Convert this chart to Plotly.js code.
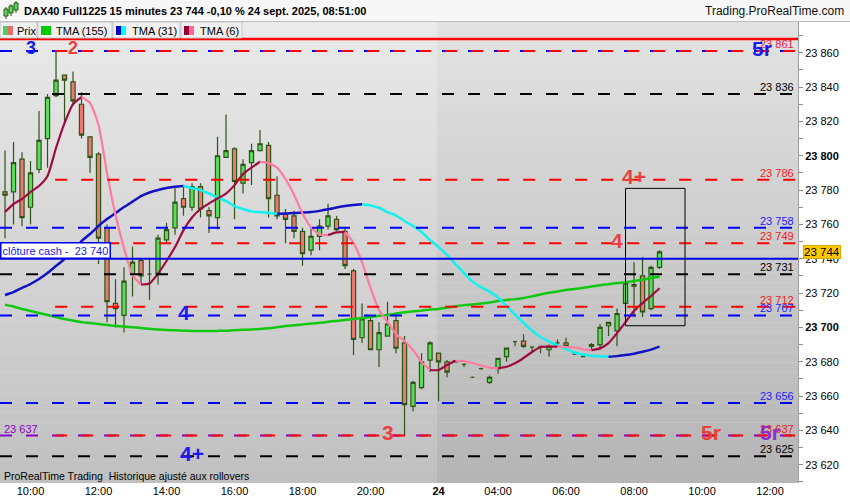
<!DOCTYPE html>
<html><head><meta charset="utf-8">
<script src="https://cdn.plot.ly/plotly-3.0.1.min.js"></script>
<style>html,body{margin:0;padding:0;background:#fff;overflow:hidden}#chart{width:850px;height:500px}</style>
</head><body><div id="chart"></div>
<script>
// ---------- DATA ----------
const times = [
"23 09:15","23 09:30","23 09:45","23 10:00","23 10:15","23 10:30","23 10:45","23 11:00","23 11:15","23 11:30","23 11:45",
"23 12:00","23 12:15","23 12:30","23 12:45","23 13:00","23 13:15","23 13:30","23 13:45",
"23 14:00","23 14:15","23 14:30","23 14:45","23 15:00","23 15:15","23 15:30","23 15:45",
"23 16:00","23 16:15","23 16:30","23 16:45","23 17:00","23 17:15","23 17:30","23 17:45",
"23 18:00","23 18:15","23 18:30","23 18:45","23 19:00","23 19:15","23 19:30","23 19:45",
"23 20:00","23 20:15","23 20:30","23 20:45","23 21:00","23 21:15","23 21:30","23 21:45",
"24 02:15","24 02:30","24 02:45","24 03:00","24 03:15","24 03:30","24 03:45",
"24 04:00","24 04:15","24 04:30","24 04:45","24 05:00","24 05:15","24 05:30","24 05:45",
"24 06:00","24 06:15","24 06:30","24 06:45","24 07:00","24 07:15","24 07:30","24 07:45",
"24 08:00","24 08:15","24 08:30","24 08:45","24 09:00","24 09:15","24 09:30","24 09:45",
"24 10:00","24 10:15","24 10:30","24 10:45","24 11:00","24 11:15","24 11:30","24 11:45",
"24 12:00","24 12:15","24 12:30","24 12:45"];

const open  = [23779,23779,23798,23770,23792,23810,23835,23847,23843,23830,23811,23801,23758,23714,23707,23731,23739,23731,23731,23751,
23758,23775,23770,23782,23768,23764,23799,23804,23784,23796,23803,23806,23777,23766,23765,23756,23745,23753,23759,23763,
23756,23733,23694,23704,23687,23695,23704,23691,23654,23665,23681,23685,23680,23680,23678.5,23671,23676,23668,23676,23683,
23691.7,23692,23688.5,23689,23687,23691,23691,23684.5,23683,23690,23690,23701,23698,23714,23725,23730,23711,23735];
const high  = [23803,23808,23802,23797,23826,23836,23861,23847,23849,23837,23811,23802,23760,23728,23735,23747,23740,23740,23754,23761,
23781,23782,23784,23784,23770,23811,23824,23805,23798,23807,23815,23808,23788,23769,23768,23758,23758,23763,23772,23765,
23758,23734,23714,23706,23703,23715,23708,23695,23669,23685,23692,23685,23681,23681,23679,23671.5,23676.5,23672,23682,23688,
23692,23696,23689,23689,23690,23693,23694,23685,23684,23691,23702,23703,23711,23727,23738,23741,23736,23745];
const low   = [23752,23760,23759,23760,23790,23793,23834,23819,23829,23810,23790,23737,23703,23700,23697,23718,23725,23716,23725,23749,
23754,23765,23768,23764,23755,23757,23799,23763,23778,23783,23803,23764,23763,23749,23752,23736,23742,23745,23757,23756,
23734,23684,23691,23687,23677,23695,23685,23637,23651,23664,23674,23657,23671,23680,23677,23670.5,23675.5,23667,23673,23680,
23689,23688,23685,23685,23683,23689,23687,23684,23683,23687,23687,23695,23689,23710,23706,23706,23710,23734];
const close = [23777,23796,23764,23790,23809,23834,23844,23844,23832,23812,23799,23752,23715,23711,23727,23738,23730,23731,23752,23757,
23773,23770,23782,23769,23765,23800,23803,23785,23795,23803,23807,23775,23765,23763,23756,23743,23753,23759,23765,23757,
23736,23693,23705,23687,23697,23702,23688,23655,23668,23680,23691,23680,23674,23680.5,23678.5,23671,23676,23671,23682,23688,
23691.7,23689,23688.5,23689,23689,23691,23689,23684.5,23683,23689,23700,23703,23708,23726,23724,23709,23735,23744];

const tma155 = [23713.3,23712.2,23710.7,23709.6,23708.4,23707.2,23706.1,23704.9,23704.0,23703.1,23702.6,23702.0,23701.4,23700.9,23700.5,
23700.1,23699.7,23699.2,23698.8,23698.5,23698.3,23698.1,23698.0,23697.9,23697.9,23698.0,23698.1,23698.4,23698.6,23698.8,
23699.1,23699.5,23700.1,23700.8,23701.3,23701.7,23702.3,23702.7,23703.3,23703.8,23704.4,23704.9,23705.5,23706.1,23706.8,
23707.2,23708.1,23708.8,23709.4,23709.8,23710.4,23710.8,23711.6,23712.3,23713.0,23713.4,23713.9,23714.5,23715.4,23716.0,
23716.5,23717.2,23718.1,23719.2,23720.2,23720.9,23721.8,23722.4,23723.1,23723.8,23724.6,23725.2,23725.9,23726.3,23727.0,
23727.8,23728.8,23729.5];
const tma31 = [23718.9,23720.6,23723.0,23725.3,23728.2,23731.7,23735.8,23739.8,23745.1,23750.3,23754.4,23759.1,23763.1,23766.6,23770.1,
23773.3,23776.5,23778.6,23780.1,23781.2,23782.0,23782.4,23781.2,23780.0,23778.0,23775.7,23773.6,23770.7,23769.0,23767.6,
23767.2,23766.8,23766.2,23766.3,23766.7,23766.9,23767.2,23767.9,23768.8,23769.8,23770.7,23771.3,23771.7,23771.0,23769.7,
23767.2,23765.2,23762.0,23759.1,23755.6,23750.9,23746.8,23742.2,23736.9,23731.7,23726.7,23723.5,23720.9,23717.4,23712.5,
23707.5,23702.6,23698.2,23694.4,23691.8,23689.6,23687.4,23685.4,23684.2,23683.5,23683.2,23682.9,23683.3,23683.9,23684.7,
23685.8,23687.1,23688.8];
const tma6 = [23767.2,23771.9,23774.8,23778.9,23782.4,23788.2,23804.5,23819.0,23830.1,23834.2,23830.7,23817.9,23789.9,23765.5,23746.2,
23730.5,23725.0,23725.6,23731.4,23738.7,23746.8,23756.7,23764.0,23769.0,23772.2,23775.1,23778.0,23782.9,23789.3,23793.1,
23796.5,23795.7,23793.1,23786.4,23777.4,23766.3,23758.2,23754.2,23753.8,23755.4,23755.7,23749.2,23738.1,23723.0,23710.1,
23703.1,23696.2,23692.1,23686.9,23679.9,23675.2,23675.2,23678.1,23680.6,23680.4,23679.3,23677.8,23676.6,23676.2,23677.1,
23679.1,23682.2,23685.7,23688.6,23688.8,23688.8,23688.6,23688.3,23687.4,23686.8,23687.8,23690.9,23696.7,23703.1,23709.6,
23714.2,23718.3,23722.8];

const redLevels    = [23861, 23786, 23749, 23712, 23637];
const blueLevels   = [23861, 23758, 23707, 23656];
const blackLevels  = [23836, 23731, 23625];
const purpleLevels = [23637];
const cashClose    = 23740;
const topRedLevel  = 23868;
const lastPrice    = 23744;

const signalText  = ["3","2","4","4+","3","4","4+","5r","5r","5r"];
const signalGroup = ["blue","red","blue","blue","red","red","red","red","purple","blue"];
const signalTime  = ["23 10:00","23 11:15","23 14:30","23 14:45","23 20:30","24 07:30","24 08:00","24 10:15","24 12:00","24 11:45"];
const signalPrice = [23861,23861,23707,23625,23637,23749,23786,23637,23637,23861];

const boxTimes  = ["24 07:45","24 09:30"];
const boxPrices = [23701, 23781];

const tickTimes  = ["23 10:00","23 12:00","23 14:00","23 16:00","23 18:00","23 20:00","24 02:15","24 04:00","24 06:00","24 08:00","24 10:00","24 12:00"];
const tickLabels = ["10:00","12:00","14:00","16:00","18:00","20:00","<b>24</b>","04:00","06:00","08:00","10:00","12:00"];
const yTickVals  = [23620,23640,23660,23680,23700,23720,23740,23760,23780,23800,23820,23840,23860];

// ---------- STYLE ----------
const FONT = 'Liberation Sans, Arial, sans-serif';
const COL = {red:'#ff0000', blue:'#0000ff', black:'#000000', purple:'#8a00c8'};
const TXT = {red:'#e8403c', blue:'#1a1aee', purple:'#8f2bd0'};
const PW = 798, PT = 22, PB = 483;
const px2p = px => px / PW;
const py2p = py => (PB - py) / (PB - PT);
const fmt = v => { const s = String(Math.round(v)); return s.slice(0, s.length-3) + ' ' + s.slice(-3); };
const idx = t => times.indexOf(t);
const xs = open.map((_, i) => i);

const traces = [];
traces.push({
  type:'candlestick', x: xs, open, high, low, close,
  increasing:{line:{color:'#2e5416', width:1.2}, fillcolor:'#5ade5a'},
  decreasing:{line:{color:'#2e5416', width:1.2}, fillcolor:'#ec7a72'},
  whiskerwidth:0, hoverinfo:'skip'
});
function runs(vals){
  const out = []; let s = 0, dir = vals[1] >= vals[0];
  for (let i = 2; i < vals.length; i++){
    const d = vals[i] >= vals[i-1];
    if (d !== dir){ out.push({s, e:i-1, up:dir}); s = i-1; dir = d; }
  }
  out.push({s, e:vals.length-1, up:dir});
  return out;
}
function maTraces(vals, upCol, downCol, w){
  runs(vals).forEach(r => {
    traces.push({type:'scatter', mode:'lines', x: xs.slice(r.s, r.e+1), y: vals.slice(r.s, r.e+1),
      line:{color: r.up ? upCol : downCol, width:w, shape:'spline', smoothing:0.6}, hoverinfo:'skip'});
  });
}
traces.push({type:'scatter', mode:'lines', x: xs, y: tma155, line:{color:'#10c810', width:2.5, shape:'spline', smoothing:0.6}, hoverinfo:'skip'});
maTraces(tma31, '#1212c4', '#12f0f0', 2.5);
maTraces(tma6, '#9e0c40', '#ff7ca0', 2.2);

// ---------- SHAPES ----------
const shapes = [];
const sepX = 50.82, NB = 46;
for (let k = 0; k < NB; k++){
  const t = (k + 0.5) / NB; // 0 top -> 1 bottom
  const gl = Math.round(234 - 42*t), gr = Math.round(226 - 46*t);
  const y1 = 1 - k/NB, y0 = 1 - (k+1)/NB;
  shapes.push({type:'rect', layer:'below', xref:'x', yref:'paper', x0:-2, x1:sepX, y0, y1, line:{width:0}, fillcolor:`rgb(${gl},${gl},${gl})`});
  shapes.push({type:'rect', layer:'below', xref:'x', yref:'paper', x0:sepX, x1:96, y0, y1, line:{width:0}, fillcolor:`rgb(${gr},${gr},${gr})`});
}
const DASH = '12px,14px', X0 = -0.59, XR = 5.9, XE = 96;
const hline = (v, color, x0, dash, w) => shapes.push({type:'line', layer:'above', xref:'x', yref:'y', x0, x1:XE, y0:v, y1:v, line:{color, width:w||2, dash}});
blackLevels.forEach(v => hline(v, COL.black, X0, DASH));
blueLevels.forEach(v => hline(v, COL.blue, X0, DASH));
purpleLevels.forEach(v => hline(v, COL.purple, X0, DASH));
redLevels.forEach(v => hline(v, COL.red, XR, DASH));
hline(cashClose, '#0000e6', X0, 'solid', 2);
hline(topRedLevel, '#ff0000', X0, 'solid', 2.5);
shapes.push({type:'rect', layer:'above', xref:'x', yref:'y', x0: idx(boxTimes[0]), x1: idx(boxTimes[1]), y0: boxPrices[0], y1: boxPrices[1], line:{color:'#000', width:1}});

// title bar
shapes.push({type:'rect', xref:'paper', yref:'paper', x0:-0.01, x1:1.08, y0:py2p(21), y1:py2p(-2), line:{width:0}, fillcolor:'#f7f7f7'});
shapes.push({type:'line', xref:'paper', yref:'paper', x0:-0.01, x1:1.08, y0:py2p(21.5), y1:py2p(21.5), line:{color:'#bdbdbd', width:1}});
// title icon
[[4,8,9,16,'#55d855'],[9,13,6,13,'#55d855'],[14,18,3,10,'#55d855']].forEach(c => {
  shapes.push({type:'line', xref:'paper', yref:'paper', x0:px2p((c[0]+c[1])/2), x1:px2p((c[0]+c[1])/2), y0:py2p(c[3]+3), y1:py2p(c[2]-2), line:{color:'#2e5416', width:1}});
  shapes.push({type:'rect', xref:'paper', yref:'paper', x0:px2p(c[0]), x1:px2p(c[1]), y0:py2p(c[3]), y1:py2p(c[2]), line:{color:'#2e5416', width:1}, fillcolor:c[4]});
});
// legend strip
const legBoxes = [[0,37],[38,112],[113,180],[181,242]];
legBoxes.forEach(b => shapes.push({type:'rect', layer:'above', xref:'paper', yref:'paper', x0:px2p(b[0]), x1:px2p(b[1]), y0:py2p(38), y1:py2p(22), line:{color:'#c4c4c4', width:1}, fillcolor:'#f0f0f0'}));
const sw = [[3,8,'#55cc55'],[8,13,'#e86a6a'],[41,51,'#00cc00'],[116,121,'#0000cc'],[121,126,'#00ffff'],[184,189,'#990033'],[189,194,'#ff6699']];
sw.forEach(s => shapes.push({type:'rect', layer:'above', xref:'paper', yref:'paper', x0:px2p(s[0]), x1:px2p(s[1]), y0:py2p(35), y1:py2p(26), line:{width:0}, fillcolor:s[2]}));

// ---------- ANNOTATIONS ----------
const ann = [];
const labelAt = (v, color) => ann.push({xref:'paper', yref:'y', x:px2p(796), y:v, xanchor:'right', yanchor:'bottom', yshift:-1, text:fmt(v), showarrow:false, font:{family:FONT, size:11, color}});
redLevels.forEach(v => labelAt(v, v === 23861 ? '#e0184c' : '#ee2222'));
blueLevels.filter(v => v !== 23861).forEach(v => labelAt(v, '#2020ff'));
blackLevels.forEach(v => labelAt(v, '#000'));
purpleLevels.forEach(v => ann.push({xref:'paper', yref:'y', x:px2p(2), y:v, xanchor:'left', yanchor:'bottom', yshift:-1, text:fmt(v), showarrow:false, font:{family:FONT, size:11, color:'#8a00c8'}}));
signalText.forEach((s, k) => {
  const big = !(s === '3' && signalGroup[k] === 'blue') && !(s === '2');
  ann.push({xref:'x', yref:'y', x: idx(signalTime[k]), y: signalPrice[k], xanchor:'center', yanchor:'middle', yshift:3,
    text:'<b>'+s+'</b>', showarrow:false, font:{family:FONT, size: big ? 21 : 18, color: TXT[signalGroup[k]]}});
});
ann.push({xref:'paper', yref:'y', x:0, y:cashClose, xanchor:'left', yanchor:'bottom', yshift:0, text:'clôture cash -  '+fmt(cashClose), showarrow:false,
  bgcolor:'#ffffff', bordercolor:'#0000e6', borderwidth:1.5, borderpad:1, font:{family:FONT, size:11, color:'#1a1ae0'}});
ann.push({xref:'paper', yref:'y', x:px2p(803), y:lastPrice, xanchor:'left', yanchor:'middle', text:fmt(lastPrice), showarrow:false,
  bgcolor:'#fcc800', bordercolor:'#d9a800', borderwidth:1, borderpad:0, font:{family:FONT, size:11.5, color:'#000'}});
ann.push({xref:'paper', yref:'paper', x:px2p(22), y:py2p(11), xanchor:'left', yanchor:'middle', showarrow:false,
  text:'<b>DAX40 Full1225 15 minutes 23 744 -0,10 % 24 sept. 2025, 08:51:00</b>', font:{family:FONT, size:11, color:'#000'}});
ann.push({xref:'paper', yref:'paper', x:px2p(846), y:py2p(11), xanchor:'right', yanchor:'middle', showarrow:false,
  text:'Trading.ProRealTime.com', font:{family:FONT, size:12, color:'#111'}});
[['Prix',15],['TMA (155)',54],['TMA (31)',130],['TMA (6)',198]].forEach(l => ann.push({xref:'paper', yref:'paper', x:px2p(l[1]), y:py2p(30.5), xanchor:'left', yanchor:'middle', showarrow:false, text:l[0], font:{family:FONT, size:11, color:'#000'}}));
ann.push({xref:'paper', yref:'paper', x:px2p(2), y:py2p(476), xanchor:'left', yanchor:'middle', showarrow:false,
  text:'ProRealTime Trading  Historique ajusté aux rollovers', font:{family:FONT, size:10.5, color:'#000'}});

const minorVals = []; for (let v = 23610; v <= 23870; v += 10) minorVals.push(v);
const layout = {
  width:850, height:500, margin:{l:0, r:52, t:22, b:17, pad:0},
  paper_bgcolor:'#ffffff', plot_bgcolor:'#dddddd', showlegend:false, hovermode:false,
  xaxis:{type:'linear', range:[-0.59, 93.29], tickmode:'array', tickvals: tickTimes.map(idx), ticktext: tickLabels,
    ticks:'', showgrid:false, zeroline:false, showline:false, rangeslider:{visible:false}, fixedrange:true,
    tickfont:{family:FONT, size:11, color:'#000'}},
  yaxis:{side:'right', range:[23609.4, 23877.9], tickmode:'array', tickvals:yTickVals,
    ticktext: yTickVals.map(v => v % 100 === 0 ? '<b>'+fmt(v)+'</b>' : fmt(v)),
    ticks:'outside', ticklen:4, tickcolor:'#8c8c8c', showgrid:false, zeroline:false, showline:true, linecolor:'#a0a0a0', linewidth:1,
    minor:{tickvals:minorVals, ticks:'outside', ticklen:4, tickcolor:'#8c8c8c'}, fixedrange:true,
    tickfont:{family:FONT, size:11, color:'#000'}},
  shapes, annotations: ann
};
Plotly.newPlot('chart', traces, layout, {staticPlot:true, displayModeBar:false});
</script></body></html>
